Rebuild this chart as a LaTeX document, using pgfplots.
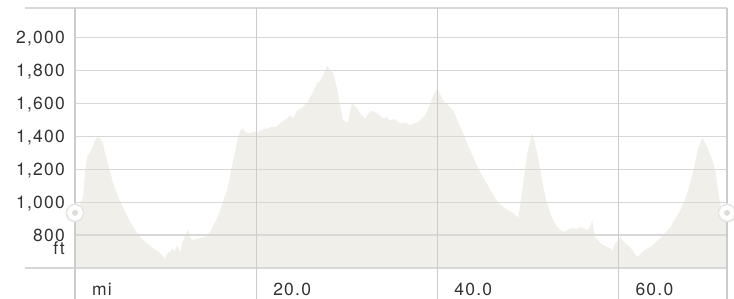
\documentclass[border=0pt]{standalone}
\usepackage{fontspec}
\setmainfont{TeX Gyre Heros}[LetterSpace=7]
\usepackage{pgfplots}
\pgfplotsset{compat=1.18}
\definecolor{fillc}{HTML}{F0EFEA}
\definecolor{gridh}{HTML}{D8D8D8}
\definecolor{gridv}{HTML}{CCCCCC}
\definecolor{txt}{HTML}{333333}
\definecolor{markc}{HTML}{DCDCD9}
\definecolor{ringc}{HTML}{E6E6E4}
\begin{document}
\begin{tikzpicture}
\useasboundingbox (0,0) rectangle (734pt,299pt);
\begin{axis}[
  at={(75pt,31pt)}, anchor=south west,
  scale only axis, width=652pt, height=260pt,
  xmin=0, xmax=72, ymin=600, ymax=2180,
  clip=false,
  axis line style={draw=none},
  major tick length=0pt,
  xtick={0,20,40,60}, xticklabels={mi,20.0,40.0,60.0},
  ytick={800,1000,1200,1400,1600,1800,2000},
  yticklabels={800,{1,000},{1,200},{1,400},{1,600},{1,800},{2,000}},
  ticklabel style={font=\fontsize{17.5}{20}\selectfont, text=txt, inner sep=0pt},
  xticklabel style={anchor=base west, xshift=17pt, yshift=-28pt},
  yticklabel style={anchor=base east, xshift=-10pt, yshift=-6pt},
]
\addplot[fill=fillc, draw=none] coordinates {
(0,600) (0,935) (0.3,960) (0.55,985) (0.88,1030) (1.1,1180) (1.33,1273) (1.66,1303) (1.9,1330) (2.21,1376) (2.5,1395) (2.76,1388) (3.09,1358) (3.3,1300) (3.54,1254) (3.9,1180) (4.2,1115) (4.8,1030) (5.3,970) (5.9,900) (6.41,848) (7.0,800) (7.51,770) (8.1,745) (8.62,721) (9.2,700) (9.6,680) (9.94,655) (10.2,690) (10.5,697) (10.8,720) (11.0,700) (11.27,739) (11.6,697) (11.9,760) (12.15,800) (12.49,835) (12.7,790) (12.93,770) (13.3,775) (13.81,782) (14.3,790) (14.92,818) (15.5,880) (16.02,951) (16.4,1010) (16.8,1073) (17.1,1150) (17.46,1254) (17.8,1340) (18.01,1394) (18.3,1440) (18.56,1448) (18.9,1425) (19.34,1418) (19.7,1430) (20.11,1424) (20.6,1440) (21.22,1448) (21.8,1460) (22.2,1455) (22.65,1479) (23.2,1500) (23.76,1527) (24.1,1510) (24.53,1557) (25.1,1575) (25.64,1606) (26.2,1660) (26.74,1721) (27.1,1740) (27.4,1770) (27.85,1830) (28.18,1800) (28.51,1788) (28.8,1720) (29.06,1660) (29.3,1580) (29.61,1497) (30.17,1485) (30.4,1560) (30.61,1600) (31.16,1570) (31.6,1530) (32.04,1509) (32.4,1540) (32.82,1557) (33.37,1539) (34.03,1509) (34.4,1515) (34.81,1497) (35.3,1505) (35.91,1479) (36.5,1485) (37.02,1467) (37.5,1480) (37.9,1485) (38.67,1527) (39.1,1580) (39.45,1636) (40.0,1691) (40.3,1660) (40.66,1618) (41.2,1590) (41.77,1557) (42.3,1490) (42.87,1418) (43.4,1345) (43.98,1273) (44.5,1210) (45.08,1151) (45.6,1100) (46.19,1042) (46.7,1000) (47.29,970) (47.8,950) (48.4,933) (48.95,905) (49.39,1073) (49.94,1297) (50.5,1420) (51.05,1297) (51.4,1190) (51.71,1091) (52.1,1000) (52.49,933) (52.9,880) (53.26,848) (53.92,818) (54.5,835) (55.03,842) (55.4,835) (55.8,848) (56.3,838) (56.69,830) (57.0,870) (57.13,891) (57.3,830) (57.46,788) (58.01,752) (58.4,740) (58.78,727) (59.1,720) (59.34,705) (59.67,752) (60.0,770) (60.22,788) (60.5,765) (60.77,752) (61.2,730) (61.55,709) (62.1,665) (62.65,697) (63.0,712) (63.54,727) (64.1,755) (64.64,782) (65.2,815) (65.75,848) (66.3,900) (66.85,951) (67.62,1054) (68.29,1194) (68.84,1333) (69.28,1390) (69.6,1360) (69.83,1333) (70.39,1254) (70.72,1194) (71.05,1054) (71.49,933) (72,925) (72,600)
};
% horizontal grid
\foreach \yy in {800,1000,1200,1400,1600,1800,2000}{
  \edef\tmp{\noexpand\draw[gridh, line width=1.3pt] (axis cs:0,\yy) -- (axis cs:72,\yy);}\tmp
}
\draw[gridh, line width=1.3pt] ([xshift=-50pt]axis cs:0,2180) -- (axis cs:72,2180);
\draw[gridh, line width=1.3pt] ([xshift=-50pt]axis cs:0,600) -- (axis cs:72,600);
% vertical grid
\foreach \xx in {0,20,40,60,72}{
  \edef\tmp{\noexpand\draw[gridv, line width=1.1pt] (axis cs:\xx,2180) -- ([yshift=-31pt]axis cs:\xx,600);}\tmp
}
\node[anchor=base east, inner sep=0pt, font=\fontsize{17.5}{20}\selectfont, text=txt] at ([xshift=-10pt, yshift=-19pt]axis cs:0,800) {ft};
\addplot[only marks, color=ringc, mark=*, mark size=9pt, mark options={color=ringc, fill=ringc, draw=ringc, line width=0pt}] coordinates {(0,935) (72,935)};
\addplot[only marks, color=white, mark=*, mark size=5.5pt, mark options={fill=markc, draw=white, line width=4.5pt}] coordinates {(0,935) (72,935)};
\end{axis}
\end{tikzpicture}
\end{document}
